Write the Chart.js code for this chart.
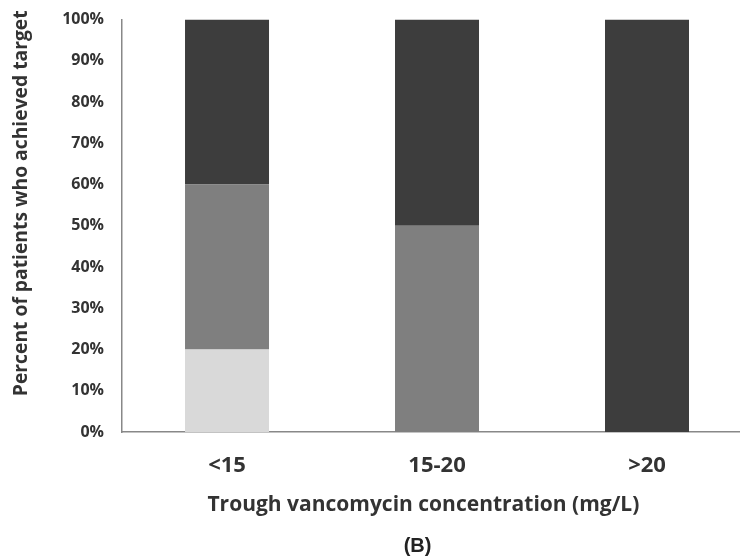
<!DOCTYPE html>
<html>
<head>
<meta charset="utf-8">
<script src="https://cdn.jsdelivr.net/npm/chart.js@4/dist/chart.umd.min.js"></script>
<style>
html,body{margin:0;padding:0;background:#fff;overflow:hidden;}
#wrap{width:752px;height:559px;position:relative;}
</style>
</head>
<body>
<div id="wrap"><canvas id="c"></canvas></div>
<script>
const categories = ['<15', '15-20', '>20'];
const lightSeries = [20, 0, 0];
const midSeries = [40, 50, 0];
const darkSeries = [40, 50, 100];
const yTicks = [0, 10, 20, 30, 40, 50, 60, 70, 80, 90, 100];

const labelFont = "'Open Sans', Lato, sans-serif";
const ds = (label, data, color) => ({
  label, data, backgroundColor: color, borderColor: color, borderWidth: 0,
  barPercentage: 0.4, categoryPercentage: 1.0
});

new Chart(document.getElementById('c'), {
  type: 'bar',
  data: {
    labels: categories,
    datasets: [
      ds('Low', lightSeries, '#d9d9d9'),
      ds('Mid', midSeries, '#7f7f7f'),
      ds('High', darkSeries, '#3d3d3d')
    ]
  },
  options: {
    responsive: true,
    maintainAspectRatio: false,
    animation: false,
    layout: { padding: { top: 6, left: 10, right: 0, bottom: 2 } },
    plugins: {
      legend: { display: false },
      tooltip: { enabled: false },
      title: {
        display: true, position: 'bottom', fullSize: false,
        text: '(B)' + ' '.repeat(7),
        color: '#222', font: { family: "'Liberation Sans', Arial, sans-serif", size: 20, weight: 'bold', lineHeight: 1.1 },
        padding: { top: 19, bottom: 0 }
      }
    },
    scales: {
      x: {
        stacked: true,
        grid: { display: false },
        border: { display: true, color: '#888', width: 1.5 },
        ticks: { color: '#333', font: { family: labelFont, size: 22, weight: 'bold', lineHeight: 1.0 }, padding: 15 },
        title: {
          display: true, text: 'Trough vancomycin concentration (mg/L)' + ' '.repeat(5), color: '#333',
          font: { family: labelFont, size: 21, weight: 'bold', lineHeight: 1.0 }, padding: { top: 3, bottom: 0 }
        }
      },
      y: {
        stacked: true, min: 0, max: 100,
        afterBuildTicks: (axis) => { axis.ticks = yTicks.map(v => ({ value: v })); },
        grid: { display: false },
        border: { display: true, color: '#888', width: 1.5 },
        ticks: {
          color: '#333', font: { family: labelFont, size: 16, weight: 'bold' }, padding: 10,
          callback: (v) => v + '%'
        },
        title: {
          display: true, text: ' '.repeat(9) + 'Percent of patients who achieved target', color: '#333',
          font: { family: labelFont, size: 19.3, weight: 'bold' }, padding: { top: 0, bottom: 19 }
        }
      }
    }
  }
});
</script>
</body>
</html>
